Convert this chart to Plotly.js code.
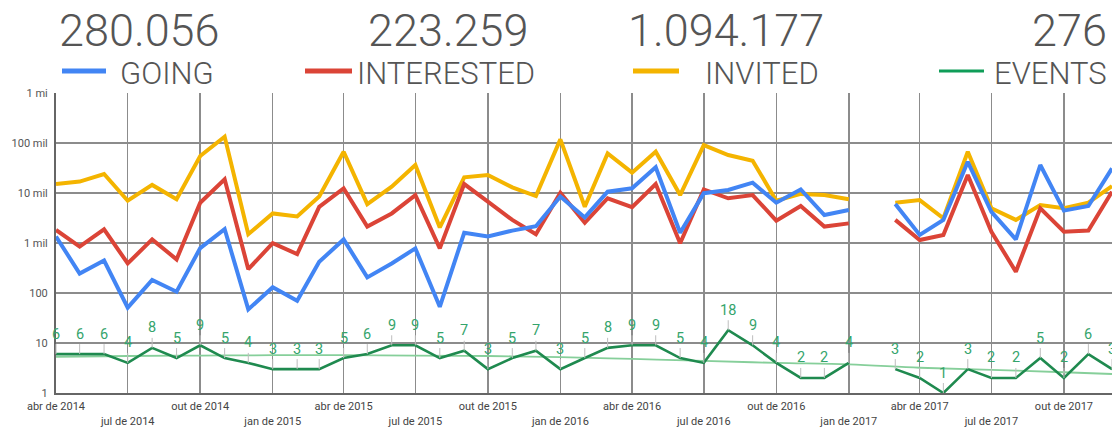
<!DOCTYPE html>
<html>
<head>
<meta charset="utf-8">
<script src="https://cdn.plot.ly/plotly-3.0.1.min.js"></script>
<style>
  html, body { margin: 0; padding: 0; background: #fff; }
  #chart { width: 1112px; height: 430px; }
</style>
</head>
<body>
<div id="chart"></div>
<script>
// ---------- DATA ----------
const months = [
  '2014-04-01','2014-05-01','2014-06-01','2014-07-01','2014-08-01','2014-09-01','2014-10-01','2014-11-01','2014-12-01',
  '2015-01-01','2015-02-01','2015-03-01','2015-04-01','2015-05-01','2015-06-01','2015-07-01','2015-08-01','2015-09-01',
  '2015-10-01','2015-11-01','2015-12-01','2016-01-01','2016-02-01','2016-03-01','2016-04-01','2016-05-01','2016-06-01',
  '2016-07-01','2016-08-01','2016-09-01','2016-10-01','2016-11-01','2016-12-01','2017-01-01','2017-02-01','2017-03-01',
  '2017-04-01','2017-05-01','2017-06-01','2017-07-01','2017-08-01','2017-09-01','2017-10-01','2017-11-01','2017-12-01'
];
const going = [1350, 245, 445, 51, 182, 106, 790, 1900, 47, 130, 70, 420, 1180, 205,
  390, 780, 53, 1600, 1350, 1770, 2170, 8500, 3250, 10600, 12400, 32700, 1600, 9900, 11500,
  16100, 6400, 11800, 3630, 4570, null, 6000, 1450, 2900, 42000, 4200, 1180, 36300, 4440, 5500, 31000];
const interested = [1820, 850, 1880, 390, 1180, 470, 6400, 18800, 300, 990, 600, 5300, 12400, 2130,
  3900, 9100, 780, 15100, 6700, 2900, 1500, 10100, 2540, 7850, 5200, 15100, 990, 11800, 7850,
  9100, 2800, 5500, 2130, 2470, null, 2900, 1150, 1450, 23000, 1680, 267, 4940, 1680, 1770, 10600];
const invited = [15100, 16900, 24000, 7000, 14500, 7500, 55000, 134000, 1500, 3900, 3400, 8500, 67000, 6000,
  13400, 36300, 2050, 20600, 22900, 13000, 8700, 118000, 5300, 62000, 25500, 67000, 9100, 91000, 57500,
  44300, 7000, 9600, 9100, 7500, null, 6400, 7200, 3120, 67000, 4940, 2900, 5750, 4940, 6400, 13800];
const events = [6, 6, 6, 4, 8, 5, 9, 5, 4, 3, 3, 3, 5, 6, 9, 9, 5, 7, 3, 5, 7, 3, 5, 8, 9, 9, 5, 4, 18, 9,
  4, 2, 2, 4, null, 3, 2, 1, 3, 2, 2, 5, 2, 6, 3];
const trendDates = ['2014-04-01','2014-07-01','2014-10-01','2015-01-01','2015-04-01','2015-07-01','2015-10-01','2016-01-01',
  '2016-04-01','2016-07-01','2016-10-01','2017-01-01','2017-04-01','2017-07-01','2017-10-01','2017-12-01'];
const trendValues = [5.3, 5.5, 5.6, 5.7, 5.7, 5.6, 5.5, 5.2, 4.8, 4.4, 4.0, 3.75, 3.2, 2.9, 2.6, 2.4];

const seriesNames = ['GOING', 'INTERESTED', 'INVITED', 'EVENTS'];
const seriesTotals = ['280.056', '223.259', '1.094.177', '276'];

const xTickVals = ['2014-04-01','2014-07-01','2014-10-01','2015-01-01','2015-04-01','2015-07-01','2015-10-01','2016-01-01',
  '2016-04-01','2016-07-01','2016-10-01','2017-01-01','2017-04-01','2017-07-01','2017-10-01'];
const xTickLabels = ['abr de 2014','jul de 2014','out de 2014','jan de 2015','abr de 2015','jul de 2015','out de 2015','jan de 2016',
  'abr de 2016','jul de 2016','out de 2016','jan de 2017','abr de 2017','jul de 2017','out de 2017'];
const yTickVals = [1, 10, 100, 1000, 10000, 100000, 1000000];
const yTickLabels = ['1', '10', '100', '1 mil', '10 mil', '100 mil', '1 mi'];

// ---------- STYLE ----------
const colors = { going: '#4285F4', interested: '#DB4437', invited: '#F4B400', events: '#1f8a4f', eventLabel: '#34a46c', trend: '#86cf9a' };
const L = 56, R = 1112, T = 93, B = 393;
const px = p => (p - L) / (R - L);
const py = p => (B - p) / (B - T);

const traces = [
  { x: months, y: invited, mode: 'lines', line: { color: colors.invited, width: 4 }, connectgaps: false, name: 'INVITED' },
  { x: months, y: interested, mode: 'lines', line: { color: colors.interested, width: 4 }, connectgaps: false, name: 'INTERESTED' },
  { x: months, y: going, mode: 'lines', line: { color: colors.going, width: 4 }, connectgaps: false, name: 'GOING' },
  { x: trendDates, y: trendValues, mode: 'lines', line: { color: colors.trend, width: 1.8, shape: 'spline' }, name: 'trend' },
  { x: months, y: events, mode: 'lines', line: { color: colors.events, width: 2.6 }, connectgaps: false, name: 'EVENTS' }
];

const annotations = [];
events.forEach((v, i) => {
  if (v === null) return;
  annotations.push({
    x: months[i], y: Math.log10(v), xref: 'x', yref: 'y',
    text: String(v), showarrow: true, arrowhead: 0, arrowwidth: 1, arrowcolor: '#bdbdbd',
    ax: 0, ay: -20, font: { family: 'Roboto', size: 14.5, color: colors.eventLabel }
  });
});

// header: totals and legend labels
const headerRight = [222, 531, 826, 1109];
const labelRight = [216, 537, 821, 1109];
const legendLine = [[62, 106, colors.going, 5], [305, 352, colors.interested, 5], [633, 679, colors.invited, 5], [939, 984, '#0F9D58', 3]];
const shapes = [];
seriesNames.forEach((n, k) => {
  annotations.push({ xref: 'paper', yref: 'paper', x: px(headerRight[k]), y: py(31), xanchor: 'right', yanchor: 'middle',
    text: seriesTotals[k], showarrow: false, font: { family: 'Roboto', size: 45, color: '#555', weight: 300 } });
  annotations.push({ xref: 'paper', yref: 'paper', x: px(labelRight[k]), y: py(73), xanchor: 'right', yanchor: 'middle',
    text: n, showarrow: false, font: { family: 'Roboto', size: 31, color: '#555', weight: 300 } });
  const ll = legendLine[k];
  shapes.push({ type: 'line', xref: 'paper', yref: 'paper', x0: px(ll[0]), x1: px(ll[1]), y0: py(71), y1: py(71),
    line: { color: ll[2], width: ll[3] } });
});
// lighter gridline at 10
shapes.push({ type: 'line', xref: 'paper', yref: 'y', x0: 0, x1: 1, y0: 10, y1: 10, layer: 'between',
  line: { color: '#d0d0d0', width: 1.5 } });

const xTickText = xTickLabels.map((t, i) => (i % 2 === 0 ? t : '<br>' + t));

const layout = {
  width: 1112, height: 430,
  margin: { l: L, r: 1112 - R, t: T, b: 430 - B, pad: 0 },
  paper_bgcolor: '#fff', plot_bgcolor: '#fff',
  showlegend: false,
  font: { family: 'Roboto', color: '#555' },
  xaxis: {
    type: 'date', range: ['2014-04-01', '2017-12-01'],
    tickvals: xTickVals, ticktext: xTickText, tickfont: { size: 11, color: '#444' },
    showgrid: true, gridcolor: '#8c8c8c', gridwidth: 1.5,
    showline: true, linecolor: '#666', linewidth: 2, ticks: '', zeroline: false,
    ticklabelstandoff: 2
  },
  yaxis: {
    type: 'log', range: [0, 6],
    tickvals: yTickVals, ticktext: yTickLabels, tickfont: { size: 11, color: '#555' },
    showgrid: true, gridcolor: '#8c8c8c', gridwidth: 1.5,
    showline: true, linecolor: '#666', linewidth: 2, ticks: '', zeroline: false,
    ticklabelstandoff: 4
  },
  annotations: annotations,
  shapes: shapes
};

Plotly.newPlot('chart', traces, layout, { displayModeBar: false, staticPlot: true });
</script>
</body>
</html>
